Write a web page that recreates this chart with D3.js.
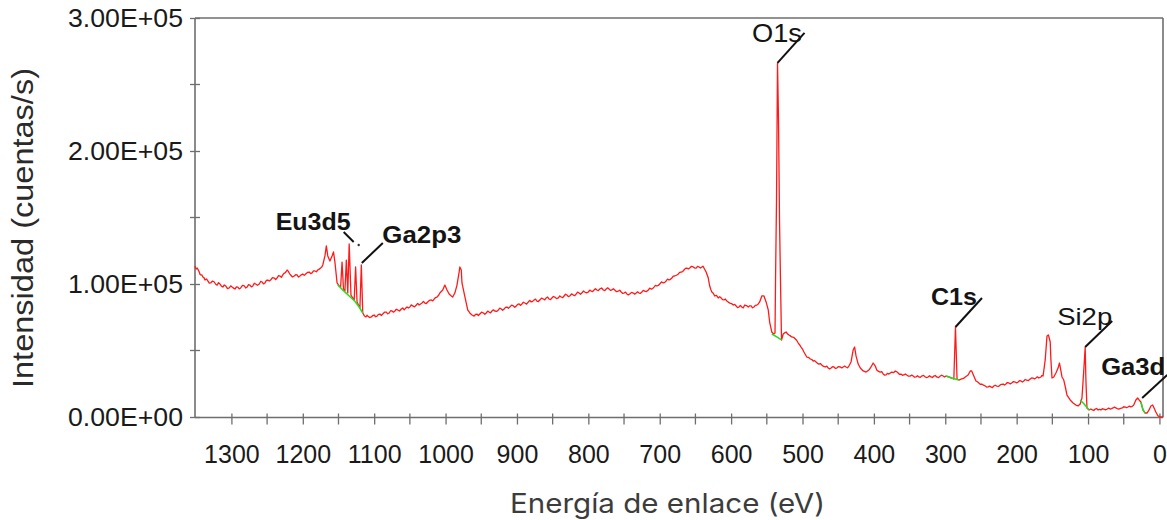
<!DOCTYPE html>
<html><head><meta charset="utf-8">
<script src="https://cdn.jsdelivr.net/npm/d3@7"></script>
<style>body{margin:0;background:#fff}svg{display:block}</style>
</head><body>
<svg id="chart" width="1167" height="520"></svg>
<script>
// ---------- DATA ----------
// XPS survey spectrum: [binding energy (eV), intensity (counts/s)]
const spectrum = [
[1351,113500],[1349.5,111200],[1348,112000],[1346.5,110600],[1345,109000],[1344,107300],[1343,106800],[1341.5,106900],[1340,105300],[1338.5,104800],[1337,103000],[1335,103800],[1333,102300],[1331,100600],[1329,100800],[1326.5,102200],[1324,101500],[1322,99800],[1320,99200],[1318,101000],[1316,100000],[1314,98400],[1312,97700],[1310,99300],[1308,98500],[1305.5,96600],[1303,97000],[1301,98600],[1299,97700],[1297,96900],[1295,96200],[1293,97900],[1291,97700],[1289,96300],[1287,97000],[1284.5,98900],[1282,98500],[1280,97000],[1278,97700],[1276,99500],[1274,99200],[1272,97800],[1270,98500],[1268,100600],[1266,100000],[1263.5,99000],[1261,100000],[1259,101900],[1257,101500],[1255,100100],[1253,100800],[1251,102700],[1249,103000],[1247,102200],[1245,103000],[1242.5,104800],[1240,104500],[1238,103400],[1236,104500],[1234,106300],[1232,106000],[1230,105000],[1228,106800],[1226.5,108000],[1225,108300],[1223.5,109200],[1222,110500],[1220.5,109700],[1219,108300],[1218,107400],[1217,106800],[1214.5,105300],[1212,106000],[1210,107000],[1208,106800],[1206,105200],[1204,106000],[1202,106900],[1200,107500],[1198,106500],[1196,107500],[1193.5,108700],[1191,109000],[1189,107800],[1187,108300],[1185,109900],[1183,109800],[1181,109200],[1179,110500],[1177,111200],[1175,112000],[1173.5,112700],[1172,114300],
[1169,121100],[1167,128600],[1165,121100],[1162,117300],[1159,121100],[1157,124100],[1155,116500],[1152,100800],[1149,98500],
[1147,97700],[1145,116500],[1143,96200],[1141,94700],[1139,118000],[1137,93200],[1135,130100],[1132.5,91700],
[1130,89500],[1128,88000],[1126,112800],[1124,86500],[1122,84200],[1120,82000],[1118,114300],[1116,78200],
[1113.5,75900],[1111.5,75200],[1110,76500],[1109,75900],[1106.5,74800],[1104,75200],[1102,76300],[1100,76700],[1098,75400],[1096,75900],[1094,77200],[1092,77400],[1090,76300],[1088,77400],[1085.5,78800],[1083,78900],[1081,77600],[1079,78200],[1077,79900],[1075,79700],[1073,78800],[1071,79700],[1069,81000],[1067,80500],[1064.5,79700],[1062,81200],[1060,82000],[1058,80500],[1056,81700],[1054,82700],[1052,81900],[1050,82700],[1048,84300],[1046,83500],[1043.5,82800],[1041,84200],[1039,85400],[1037,84200],[1035,85000],[1033,85700],[1031,86900],[1029,85700],[1027,85300],[1025,86500],[1022.5,87700],[1020,88000],[1018,87300],[1016,88700],[1014,89800],[1012,90200],[1010,91300],
[1008,93200],[1004,95500],[1001,99200],[998,95500],[995,92500],[992,91000],
[990,90200],[987,93200],[984,99200],[981,109000],[980,112800],[978,110500],[977,100800],[974,93200],
[971,85700],[969,80500],[966,78200],[963,76700],
[960,75900],[958,77100],[956,77400],[954,76300],[952,77400],[949.5,78800],[947,78200],[945,77200],[943,78200],[941,79600],[939,78900],[937,78300],[935,79700],[933,80600],[931,79700],[928.5,79400],[926,80500],[924,81900],[922,81200],[920,80200],[918,81200],[916,82400],[914,82700],[912,81800],[910,82700],[907.5,84100],[905,83500],[903,82500],[901,83500],[899,84700],[897,85000],[895,83900],[893,85000],[891,86300],[889,85700],[886.5,84900],[884,86500],[882,87700],[880,86500],[878,87000],[876,88000],[874,88600],[872,87200],[870,86800],[868,88000],[865.5,89400],[863,88700],[861,88100],[859,89500],[857,90200],[855,88700],[853,88200],[851,89500],[849,90600],[847,90200],[844.5,89000],[842,89500],[840,91000],[838,90200],[836,89700],[834,91000],[832,92300],[830,91700],[828,90500],[826,91000],[823.5,92600],[821,91700],[819,91300],[817,92500],[815,93900],[813,93200],[811,92300],[809,93200],[807,94700],[805,94000],[802.5,93300],[800,94000],[798,95400],[796,94700],[794,94300],[792,95500],[790,96500],[788,95500],[786,95000],[784,96200],[781.5,97000],[779,95500],[777,95000],[775,96200],[773,97100],[771,96200],[769,95200],[767,95500],[765,96400],[763,95500],[760.5,94200],[758,94700],[756,95300],[754,94000],[752,93000],[750,93200],[748,93900],[746,92500],[744,91800],[742,92500],[739.5,93700],[737,93200],[735,92400],[733,93200],[731,94100],[729,93200],[727,93000],[725,94000],[723,95200],[721,94700],[718.5,94300],[716,95500],[714,96900],[712,96200],[710,96500],[708,97700],[706,99000],[704,98500],[702,98900],[700,100000],[697.5,101600],[695,100800],[693,101200],[691,102300],[689,103700],[687,103000],[685,103500],[683,104500],[681,105900],[679,106000],[676.5,106600],[674,107500],[672,108700],[670,109000],[668,109300],[666,110500],[664,111700],[662,112000],[660,111300],[658,112000],[655.5,113300],[653,112800],[651,112000],[649,112000],[647,113300],[645,112800],[643,112000],[641,112800],[639.5,113400],[638,112000],
[635,109000],[632,104500],[630,98500],[628.5,96000],[627,94000],[625,93000],[623,91000],[620.5,91400],[618,89500],[616,90500],[614,89500],[612,88300],[610,88000],[608,88700],[606,87200],[604,86400],[602,85700],[599.5,85300],[597,84200],[595,84700],[593,83500],[591,82200],[589,82700],[587,83900],[585,82700],[583,82000],[581,84200],[578.5,83800],[576,82700],[574,83600],[572,83500],[570,82100],[568,82700],[566,83900],[564,84200],[562,85000],[560,86500],
[557,91000],[554,91000],[551,86500],[548,80500],[546,71400],[543,63900],[540.5,62400],[538.5,63200],[537.8,101500],[536.4,163200],
[535,266200],[533.6,223300],[532.2,148100],[530.8,101500],[529.4,57900],
[527,62400],[525,63300],[523,63900],[521,62500],[519,61700],[517,61000],[515,60200],[512.5,59900],[510,58600],[508,57500],[506,55600],[504,54300],[502,52600],[500,51100],[498,48900],[496,47000],[494,45100],[491.5,44800],[489,43600],[487,43200],[485,42100],[483,42400],[481,41400],[479,40300],[477,39800],[475,40200],[473,39100],[470.5,38000],[468,37600],[466,38300],[464,36800],[462,36100],[460,36800],[458,37800],[456,37600],[454,36600],[452,36800],[449.5,37900],[447,37600],[445,36900],[443,37600],[441,38300],[439,37600],[437,37000],[435,38300],
[432,41400],[429,50400],[427,52600],[425,45900],
[422,39800],[419,36800],[415,34600],[411,33800],[407,35300],[404,37600],[401,40600],[398,38300],
[396,35300],[393.5,34300],[391,33800],[389,34100],[387,32300],[385,31500],[383,31600],[381,32800],[379,32300],[377,33100],[375,33800],[372.5,33300],[370,34600],[368,34000],[366,33100],[364,32000],[362,32300],[360,31400],[358,31600],[356,32400],[354,31600],[351.5,30700],[349,30800],[347,31500],[345,30800],[343,29900],[341,30100],[339,31000],[337,30100],[335,29800],[333,30800],[330.5,31300],[328,30100],[326,29600],[324,30100],[322,31000],[320,30100],[318,29700],[316,30800],[314,31200],[312,30100],[309.5,29600],[307,30800],[305,31400],[303,30800],[301,30000],[299,30800],
[295,30100],[291,29300],[288,28600],[285.7,67700],[283.5,28600],[281,27800],[277,28600],[274.5,29000],[272,30100],
[268,31600],[265,34600],[263,34600],[260,30800],
[257,27100],[255,26500],[253,25600],[251,24600],[249,24800],[246.5,24000],[244,23300],[242,22500],[240,22600],[238,23200],[236,22600],[234,22100],[232,23300],[230,23900],[228,23300],[225.5,23000],[223,24100],[221,24600],[219,24800],[217,24000],[215,24800],[213,25900],[211,25600],[209,24900],[207,25600],[204.5,26600],[202,26300],[200,25600],[198,26300],[196,27300],[194,27100],[192,26300],[190,27100],[188,28200],[186,27800],[183.5,27400],[181,28600],[179,29400],[177,29300],[175,28600],[173,29300],[171,30200],[169,29300],[167.5,29700],[166,30100],[164.5,31200],[163,30800],
[160,42900],[157.5,60900],[155.5,61700],[153,56400],
[152,42900],[150.5,29300],[148,30100],[145,33100],[142,36800],[140,40600],[138,34600],[136.5,30100],
[134,27800],[131.5,21800],[129.5,16500],[125,12800],[121,10500],[117,9000],[114,8300],[111,9800],
[108.5,14300],[105.5,39100],[104,52600],[103,27800],
[101.5,6800],[100,6000],[98.5,5300],[96,6000],[94,5300],[92,4900],[90,6000],[88,6400],[86,5300],[84,5800],[82,5300],[80,6200],[78,6000],[75.5,5400],[73,6000],[71,6700],[69,6000],[67,6300],[65,6800],[63,7400],[61,6800],[59,6300],[57,6000],[54.5,6500],[52,6800],[50,7700],[48,7500],[46,7000],[44,7500],[42,8200],[40,7500],[38,8000],[36,9000],
[33,12800],[30.5,14300],[28.5,12800],
[26,11300],[23,5300],[20,3000],[17.5,3000],[14.5,5300],[12,8300],[9.5,9000],[7.5,6800],
[5,3800],[2,800],[-1,0],[-5,0]
];

// Background (green) segments under the fitted peaks
const bgEu3d5Ga2p3 = [[1151,99200],[1143,95000],[1135,91000],[1127,87000],[1121,82700],[1116,78200]];
const bgO1s  = [[543,62400],[536,60200],[529.4,57900]];
const bgC1s  = [[299,30800],[291,29300],[281,27800]];
const bgSi2p = [[111,12800],[105.5,9800],[98.5,5300]];
const bgGa3d = [[26,11300],[23,5300],[20,3000]];

// Peak annotations
const peakLabels   = ["O1s","Eu3d5","Ga2p3","C1s","Si2p","Ga3d"];
const peakEnergies = [535,1135,1118,285.7,104,30.5];
const peakCounts   = [266200,130100,114300,67700,52600,14300];

// Axis ticks
const xMajorTicks = [1300,1200,1100,1000,900,800,700,600,500,400,300,200,100,0];
const xMinorTicks = [1350,1250,1150,1050,950,850,750,650,550,450,350,250,150,50];
const yMajorTicks = [0,100000,200000,300000];
const yTickLabels = ["0.00E+00","1.00E+05","2.00E+05","3.00E+05"];
const yMinorTicks = [50000,150000,250000];

const xTitle = "Energía de enlace (eV)";
const yTitle = "Intensidad (cuentas/s)";

// ---------- DRAWING ----------
(function(){
const svg = d3.select("#chart");
const pL = 195, pR = 1163, pT = 18, pB = 417.5;
const x = d3.scaleLinear().domain([1351,-5]).range([pL,pR]);
const y = d3.scaleLinear().domain([0,300000]).range([417,18]);
const axisColor = "#6e6e6e";
const FONT = "'Liberation Sans', Arial, Helvetica, sans-serif";

// frame top/right
svg.append("line").attr("x1",pL).attr("x2",pR).attr("y1",pT).attr("y2",pT)
  .attr("stroke",axisColor).attr("stroke-width",1.6);
svg.append("line").attr("x1",pR).attr("x2",pR).attr("y1",pT).attr("y2",pB)
  .attr("stroke",axisColor).attr("stroke-width",1.6);

// x axis
const gx = svg.append("g").attr("transform",`translate(0,${pB})`)
  .call(d3.axisBottom(x).tickValues(xMajorTicks).tickFormat(d3.format("d")).tickSizeOuter(0));
gx.select(".domain").attr("stroke",axisColor).attr("stroke-width",1.6).attr("d",`M${pL},0H${pR}`);
gx.selectAll(".tick line").attr("y1",-4).attr("y2",7).attr("stroke",axisColor).attr("stroke-width",1.3);
gx.selectAll(".tick text").attr("y",45).attr("dy",0).attr("fill","#1a1a1a")
  .style("font-family",FONT).style("font-size","25px");
svg.append("g").selectAll("line").data(xMinorTicks.filter(d=>x(d)>pL+2)).join("line")
  .attr("x1",d=>x(d)).attr("x2",d=>x(d)).attr("y1",pB-4).attr("y2",pB+7)
  .attr("stroke",axisColor).attr("stroke-width",1.3);

// y axis
const gy = svg.append("g").attr("transform",`translate(${pL},0)`)
  .call(d3.axisLeft(y).tickValues(yMajorTicks).tickFormat((d,i)=>yTickLabels[i]).tickSizeOuter(0));
gy.select(".domain").attr("stroke",axisColor).attr("stroke-width",1.6).attr("d",`M0,${pT}V${pB}`);
gy.selectAll(".tick line").attr("x1",-5).attr("x2",5).attr("stroke",axisColor).attr("stroke-width",1.3);
gy.selectAll(".tick text").attr("x",-12).attr("dy","0.35em").attr("fill","#1a1a1a")
  .attr("textLength",115).attr("lengthAdjust","spacingAndGlyphs")
  .style("font-family",FONT).style("font-size","25px");
svg.append("g").selectAll("line").data(yMinorTicks).join("line")
  .attr("x1",pL-5).attr("x2",pL+5).attr("y1",d=>y(d)).attr("y2",d=>y(d))
  .attr("stroke",axisColor).attr("stroke-width",1.3);

// titles
svg.append("text").attr("x",510).attr("y",513).attr("fill","#3c3c3c")
  .attr("textLength",315).attr("lengthAdjust","spacingAndGlyphs")
  .style("font-family","Inter,'Open Sans',sans-serif").style("font-size","27px").text(xTitle);
svg.append("text").attr("transform","translate(33,388) rotate(-90)").attr("fill","#2a2a2a")
  .attr("textLength",320).attr("lengthAdjust","spacingAndGlyphs")
  .style("font-family",FONT).style("font-size","29px").text(yTitle);

// spectrum
const line = d3.line().x(d=>x(d[0])).y(d=>y(d[1]));
svg.append("path").datum(spectrum).attr("d",line).attr("fill","none")
  .attr("stroke","#ff1a1a").attr("stroke-width",1.3).attr("stroke-linejoin","round");
[bgEu3d5Ga2p3,bgO1s,bgC1s,bgSi2p,bgGa3d].forEach(seg=>{
  svg.append("path").datum(seg).attr("d",line).attr("fill","none")
    .attr("stroke","#22dd22").attr("stroke-width",1.5);
});

// annotation layout (pixel offsets from each peak apex)
const annLayout = {
  "O1s":   {l:[0,0,27,-30],  t:[-25.5,-21], w:50, fs:26, bold:false},
  "Eu3d5": {l:[-5.5,-12,4.5,-2], t:[-73.5,-14], w:75, fs:23, bold:true, dot:[9.5,1]},
  "Ga2p3": {l:[0.5,-2,21.5,-22], t:[21,-22], w:79, fs:23, bold:true},
  "C1s":   {l:[0,0,26.5,-29], t:[-24.5,-22], w:46, fs:24, bold:true},
  "Si2p":  {l:[0,0,27,-26],   t:[-28,-22], w:55, fs:24, bold:false},
  "Ga3d":  {l:[4.5,0,29.5,-23], t:[-36.5,-23], w:64, fs:24, bold:true}
};
const ann = svg.append("g");
peakLabels.forEach((lab,i)=>{
  const px = x(peakEnergies[i]), py = y(peakCounts[i]);
  const L = annLayout[lab];
  ann.append("line").attr("x1",px+L.l[0]).attr("y1",py+L.l[1]).attr("x2",px+L.l[2]).attr("y2",py+L.l[3])
    .attr("stroke","#111").attr("stroke-width",2);
  if(L.dot) ann.append("circle").attr("cx",px+L.dot[0]).attr("cy",py+L.dot[1]).attr("r",1.2).attr("fill","#333");
  ann.append("text").attr("x",px+L.t[0]).attr("y",py+L.t[1]).attr("fill","#141414")
    .attr("textLength",L.w).attr("lengthAdjust","spacingAndGlyphs")
    .style("font-family",FONT).style("font-size",L.fs+"px").style("font-weight",L.bold?"bold":"normal")
    .text(lab);
});
})();
</script>
</body></html>
